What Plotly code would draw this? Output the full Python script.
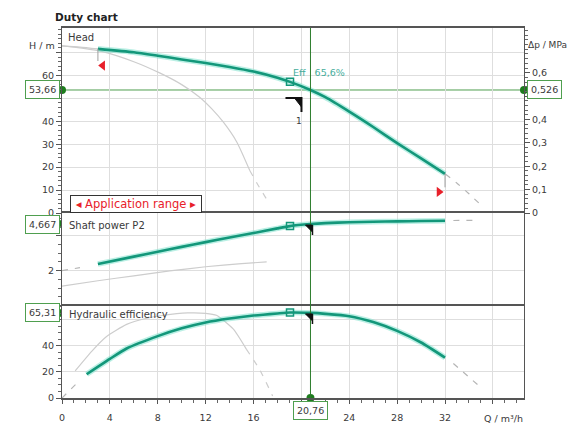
import plotly.graph_objects as go

# ---------------- data ----------------
# Head curve (m) vs flow Q (m3/h)
Q_head = [3, 6, 8, 10, 12, 14, 16, 18, 19.05, 20.76, 22, 24, 26, 28, 30, 32]
H_head = [71.6, 70.1, 68.6, 67.0, 65.4, 63.7, 61.7, 59.0, 57.2, 53.66, 50.5, 44.2, 37.5, 30.5, 23.8, 17.1]
Q_head_pre = [0, 1.5, 3]
H_head_pre = [72.8, 72.4, 71.6]
Q_head_post = [32, 33, 34, 35]
H_head_post = [17.1, 13.0, 8.4, 3.5]
Q_head_alt = [0, 3.2, 6, 8.2, 10, 11.5, 12.5, 13.5, 14.6, 15.7]
H_head_alt = [73.0, 70.6, 66.0, 61.0, 56.0, 50.5, 45.5, 39.5, 31.0, 18.4]
Q_head_alt_post = [15.7, 16.4, 17.1]
H_head_alt_post = [18.4, 12.0, 6.0]

# Shaft power P2 (kW)
Q_pow = [3, 6, 8, 10, 12, 14, 16, 18, 19.05, 20.76, 22, 24, 26, 28, 30, 32]
P_pow = [2.38, 2.80, 3.08, 3.36, 3.63, 3.90, 4.15, 4.42, 4.55, 4.667, 4.72, 4.77, 4.80, 4.82, 4.84, 4.86]
Q_pow_pre = [0, 1.5]
P_pow_pre = [2.0, 2.17]
Q_pow_post = [32.7, 34.7]
P_pow_post = [4.87, 4.88]
Q_pow_alt = [0, 3, 6, 9, 12, 15, 17.1]
P_pow_alt = [1.11, 1.42, 1.70, 1.98, 2.22, 2.40, 2.50]

# Hydraulic efficiency (%)
Q_eff = [2.06, 4, 5.4, 8, 10, 12, 14, 16, 18, 19.05, 20.76, 22, 24, 26, 28, 30, 32]
E_eff = [18.2, 30, 38, 47.5, 53.5, 58, 61, 63.3, 64.9, 65.6, 65.31, 64.6, 62.8, 58.3, 51.5, 42.6, 31]
Q_eff_pre = [0, 1.2]
E_eff_pre = [0, 11]
Q_eff_post = [32.7, 35]
E_eff_post = [26.5, 8]
Q_eff_alt = [1.1, 2.5, 3.7, 5.4, 7, 8.5, 10.5, 12, 12.9, 14.3, 15.4]
E_eff_alt = [20.8, 36, 47, 56.5, 61, 63.5, 65.3, 65, 63.5, 53, 37.5]
Q_eff_alt_post = [15.4, 16.5, 17.6]
E_eff_alt_post = [37.5, 22, 1.5]

# Best efficiency point and duty point
BEP_Q = 19.05
BEP_H, BEP_P, BEP_E = 57.2, 4.55, 65.6
BEP_LABEL = "Eff   65,6%"
DUTY_Q = 20.76
DUTY_H = 53.66
DUTY_DP = 0.526
DUTY_P = 4.667
DUTY_E = 65.31

# Application range markers
RANGE_Q = [3, 32]
RANGE_H = [71.6, 17.1]
RANGE_MARK_Q = [3.4, 31.5]
RANGE_MARK_H = [64.3, 9.2]

# Axis ticks (labels hidden behind the value boxes are left empty)
X_TICKS = [0, 4, 8, 12, 16, 20, 24, 28, 32, 36]
X_TEXT = ["0", "4", "8", "12", "16", "", "24", "28", "32", ""]
H_TICKS = [0, 10, 20, 30, 40, 50, 60, 70]
H_TEXT = ["0", "10", "20", "30", "40", "", "60", ""]
DP_TICKS = [0, 0.1, 0.2, 0.3, 0.4, 0.5, 0.6]
DP_TEXT = ["0", "0,1", "0,2", "0,3", "0,4", "", "0,6"]
P_TICKS = [0, 2, 4]
P_TEXT = ["", "2", ""]
E_TICKS = [0, 20, 40, 60]
E_TEXT = ["0", "20", "40", ""]

XMAX = 38.6
HMAX = 80.7
PMAX = 5.3
EMAX = 71.0
DP_PER_M = DUTY_DP / DUTY_H

# ---------------- style ----------------
FONT = "DejaVu Sans"
TEAL = "#13977a"
HALO = "rgba(130,225,205,0.55)"
GRAY = "#cdcdcd"
GRID = "#dedede"
FRAME = "#555555"
GREEN = "#4f9f4f"
DGREEN = "#2d7d2d"
DOT = "#1e7d1e"
TXT = "#3a3a3a"

fig = go.Figure()


def curve(x, y, xa, ya, color=TEAL, width=2.6, dash=None, halo=False, smooth=0.6):
    if halo:
        fig.add_trace(go.Scatter(x=x, y=y, xaxis=xa, yaxis=ya, mode="lines",
                                 line=dict(color=HALO, width=5.5, shape="spline", smoothing=smooth),
                                 hoverinfo="skip", showlegend=False))
    fig.add_trace(go.Scatter(x=x, y=y, xaxis=xa, yaxis=ya, mode="lines",
                             line=dict(color=color, width=width, dash=dash, shape="spline", smoothing=smooth),
                             hoverinfo="skip", showlegend=False))


DASH = "6px,7px"
# head panel
curve(Q_head_alt, H_head_alt, "x", "y", GRAY, 1.2)
curve(Q_head_alt_post, H_head_alt_post, "x", "y", GRAY, 1.2, DASH)
curve(Q_head_pre, H_head_pre, "x", "y", GRAY, 1.2)
curve(Q_head_post, H_head_post, "x", "y", "#b5b5b5", 1.2, DASH)
curve(Q_head, H_head, "x", "y", halo=True)
# power panel
curve(Q_pow_alt, P_pow_alt, "x2", "y2", GRAY, 1.2, smooth=0.3)
curve(Q_pow_pre, P_pow_pre, "x2", "y2", "#b5b5b5", 1.2, DASH)
curve(Q_pow_post, P_pow_post, "x2", "y2", "#b5b5b5", 1.2, DASH)
curve(Q_pow, P_pow, "x2", "y2", halo=True)
# efficiency panel
curve(Q_eff_alt, E_eff_alt, "x3", "y3", GRAY, 1.2)
curve(Q_eff_alt_post, E_eff_alt_post, "x3", "y3", GRAY, 1.2, DASH)
curve(Q_eff_pre, E_eff_pre, "x3", "y3", "#b5b5b5", 1.2, DASH)
curve(Q_eff_post, E_eff_post, "x3", "y3", "#b5b5b5", 1.2, DASH)
curve(Q_eff, E_eff, "x3", "y3", halo=True)

# application range ticks + triangles
for q, h, mh in zip(RANGE_Q, RANGE_H, RANGE_MARK_H):
    fig.add_trace(go.Scatter(x=[q, q], y=[h, mh + 2], xaxis="x", yaxis="y", mode="lines",
                             line=dict(color="#a0a0a0", width=1), hoverinfo="skip", showlegend=False))
fig.add_trace(go.Scatter(x=RANGE_MARK_Q, y=RANGE_MARK_H, xaxis="x", yaxis="y", mode="markers",
                         marker=dict(symbol=["triangle-left", "triangle-right"], size=9, color="#e8202a"),
                         hoverinfo="skip", showlegend=False))

# BEP markers (open squares)
for xa, ya, v in (("x", "y", BEP_H), ("x2", "y2", BEP_P), ("x3", "y3", BEP_E)):
    fig.add_trace(go.Scatter(x=[BEP_Q], y=[v], xaxis=xa, yaxis=ya, mode="markers",
                             marker=dict(symbol="square-open", size=7, color=TEAL, line=dict(width=1.5)),
                             hoverinfo="skip", showlegend=False))

# duty dots on axes
for ya, v in (("y", DUTY_H), ("y2", DUTY_P), ("y3", DUTY_E)):
    fig.add_trace(go.Scatter(x=[0], y=[v], xaxis="x", yaxis=ya, mode="markers",
                             marker=dict(size=8, color=DOT), cliponaxis=False,
                             hoverinfo="skip", showlegend=False))
fig.add_trace(go.Scatter(x=[XMAX], y=[DUTY_H], xaxis="x", yaxis="y", mode="markers",
                         marker=dict(size=8, color=DOT), cliponaxis=False, hoverinfo="skip", showlegend=False))
fig.add_trace(go.Scatter(x=[DUTY_Q], y=[0], xaxis="x3", yaxis="y3", mode="markers",
                         marker=dict(size=8, color=DOT), cliponaxis=False, hoverinfo="skip", showlegend=False))

shapes = []
# duty lines
for ya, v in (("y", DUTY_H), ("y2", DUTY_P), ("y3", DUTY_E)):
    shapes.append(dict(type="line", xref="x domain", x0=0, x1=1, yref=ya, y0=v, y1=v,
                       line=dict(color=GREEN, width=1), layer="below"))
shapes.append(dict(type="line", xref="x", x0=DUTY_Q, x1=DUTY_Q, yref="paper", y0=0, y1=1,
                   line=dict(color=DGREEN, width=1)))

# duty markers (black corner)
shapes.append(dict(type="path", xref="x", yref="y", xsizemode="pixel", ysizemode="pixel",
                   xanchor=DUTY_Q, yanchor=DUTY_H, path="M -25 -8 L -9 -8 L -9 -22",
                   line=dict(color="#111111", width=2)))
shapes.append(dict(type="path", xref="x", yref="y", xsizemode="pixel", ysizemode="pixel",
                   xanchor=DUTY_Q, yanchor=DUTY_H, path="M -16 -8 L -9 -8 L -9 -17 Z",
                   fillcolor="#111111", line=dict(color="#111111", width=1)))
for xa, ya, v in (("x2", "y2", DUTY_P), ("x3", "y3", DUTY_E)):
    shapes.append(dict(type="path", xref=xa, yref=ya, xsizemode="pixel", ysizemode="pixel",
                       xanchor=DUTY_Q, yanchor=v, path="M -5 -1 L 2 -1 L 2 -8 Z",
                       fillcolor="#111111", line=dict(color="#111111", width=1)))
    shapes.append(dict(type="path", xref=xa, yref=ya, xsizemode="pixel", ysizemode="pixel",
                       xanchor=DUTY_Q, yanchor=v, path="M 2 -1 L 2 -11",
                       line=dict(color="#111111", width=1.5)))

anns = []


def box(text, **kw):
    d = dict(text=text, showarrow=False, font=dict(family=FONT, size=9.5, color=TXT),
             bgcolor="white", bordercolor=GREEN, borderwidth=1, borderpad=3)
    d.update(kw)
    anns.append(d)


fmt = lambda v, n: f"{v:.{n}f}".replace(".", ",")
box(fmt(DUTY_H, 2), xref="paper", x=0, xanchor="right", xshift=-2, yref="y", y=DUTY_H, yanchor="middle")
box(fmt(DUTY_P, 3), xref="paper", x=0, xanchor="right", xshift=-2, yref="y2", y=DUTY_P, yanchor="middle")
box(fmt(DUTY_E, 2), xref="paper", x=0, xanchor="right", xshift=-2, yref="y3", y=DUTY_E, yanchor="middle")
box(fmt(DUTY_DP, 3), xref="paper", x=1, xanchor="left", xshift=3, yref="y", y=DUTY_H, yanchor="middle")
box(fmt(DUTY_Q, 2), xref="x3", x=DUTY_Q, xanchor="center", yref="paper", y=0, yanchor="top", yshift=-3)

lab = dict(showarrow=False, font=dict(family=FONT, size=10, color=TXT), xanchor="left")
anns.append(dict(text="Head", xref="x domain", x=0, xshift=4, yref="y domain", y=0.947, yanchor="middle", **lab))
anns.append(dict(text="Shaft power P2", xref="x domain", x=0, xshift=5, yref="y2 domain", y=0.86, yanchor="middle", **lab))
anns.append(dict(text="Hydraulic efficiency", xref="x domain", x=0, xshift=5, yref="y3 domain", y=0.9, yanchor="middle", **lab))
anns.append(dict(text=BEP_LABEL, xref="x", x=BEP_Q, xshift=1, yref="y", y=BEP_H, yshift=9, yanchor="middle",
                 showarrow=False, font=dict(family=FONT, size=9.5, color="#45ad9c"), xanchor="left"))
anns.append(dict(text="1", xref="x", x=DUTY_Q, xshift=-11, yref="y", y=DUTY_H, yshift=-31,
                 showarrow=False, font=dict(family=FONT, size=9, color=TXT)))
anns.append(dict(text="<b>Duty chart</b>", xref="paper", x=0, xshift=-9, xanchor="left", yref="paper", y=1,
                 yanchor="bottom", yshift=3, showarrow=False, font=dict(family=FONT, size=10.5, color="#222")))
anns.append(dict(text="H / m", xref="paper", x=0, xanchor="right", xshift=-5, yref="y", y=73.2, yanchor="middle",
                 showarrow=False, font=dict(family=FONT, size=9.5, color=TXT)))
anns.append(dict(text="Δp / MPa", xref="paper", x=1, xanchor="left", xshift=2, yref="y", y=73.2, yanchor="middle",
                 showarrow=False, font=dict(family=FONT, size=9, color=TXT)))
anns.append(dict(text="Q / m³/h", xref="x3", x=36.9, xanchor="center", yref="paper", y=0, yanchor="top", yshift=-13,
                 showarrow=False, font=dict(family=FONT, size=9.5, color=TXT)))
anns.append(dict(text="\u00a0◂ Application range ▸\u00a0", xref="x", x=0.65, xanchor="left", yref="y", y=0.1,
                 yanchor="bottom", showarrow=False, font=dict(family=FONT, size=11.5, color="#e8202a"),
                 bgcolor="white", bordercolor="#333333", borderwidth=1, borderpad=1))

tickfont = dict(family=FONT, size=9.5, color=TXT)
xbase = dict(range=[0, XMAX], tickmode="array", tickvals=X_TICKS, showgrid=True, gridcolor=GRID,
             showline=True, linecolor=FRAME, linewidth=1.6, mirror=True, zeroline=False, domain=[0, 1],
             automargin=False)
ybase = dict(showgrid=True, gridcolor=GRID, showline=True, linecolor=FRAME, linewidth=1.2, mirror=True,
             zeroline=False, ticks="outside", ticklen=5, tickcolor="#555", tickfont=tickfont,
             tickmode="array", automargin=False)

# the page body adds an 8px offset, so the figure is sized to the remaining window
fig.update_layout(
    width=576, height=418, autosize=False,
    margin=dict(l=54, r=60, t=20, b=28, autoexpand=False),
    paper_bgcolor="white", plot_bgcolor="white",
    showlegend=False,
    xaxis=dict(anchor="y", showticklabels=False, ticks="", **xbase),
    xaxis2=dict(anchor="y2", matches="x", showticklabels=False, ticks="", **xbase),
    xaxis3=dict(anchor="y3", matches="x", showticklabels=True, ticktext=X_TEXT, ticks="outside", ticklen=4,
                tickcolor="#555", tickfont=tickfont, ticklabelstandoff=6,
                minor=dict(dtick=1, tick0=0, ticklen=3, ticks="outside", tickcolor="#666", showgrid=False), **xbase),
    yaxis=dict(anchor="x", domain=[0.5, 1], range=[0, HMAX], tickvals=H_TICKS, ticktext=H_TEXT,
               minor=dict(dtick=2, tick0=0, ticklen=3, ticks="outside", tickcolor="#666", showgrid=False), **ybase),
    yaxis2=dict(anchor="x2", domain=[0.25, 0.5], range=[0, PMAX], tickvals=P_TICKS, ticktext=P_TEXT,
                minor=dict(dtick=0.5, tick0=0, ticklen=3, ticks="outside", tickcolor="#666", showgrid=False), **ybase),
    yaxis3=dict(anchor="x3", domain=[0, 0.25], range=[0, EMAX], tickvals=E_TICKS, ticktext=E_TEXT,
                minor=dict(dtick=5, tick0=0, ticklen=3, ticks="outside", tickcolor="#666", showgrid=False), **ybase),
    yaxis4=dict(overlaying="y", anchor="x", side="right", range=[0, HMAX * DP_PER_M], tickmode="array",
                tickvals=DP_TICKS, ticktext=DP_TEXT, ticks="outside", ticklen=5, tickcolor="#555",
                tickfont=tickfont, showgrid=False, zeroline=False, showline=False, automargin=False,
                minor=dict(dtick=0.02, tick0=0, ticklen=3, ticks="outside", tickcolor="#666", showgrid=False)),
    shapes=shapes,
    annotations=anns,
)
# dummy trace so the right axis is drawn
fig.add_trace(go.Scatter(x=[None], y=[None], xaxis="x", yaxis="y4", showlegend=False, hoverinfo="skip"))

fig.write_html("out.html")
